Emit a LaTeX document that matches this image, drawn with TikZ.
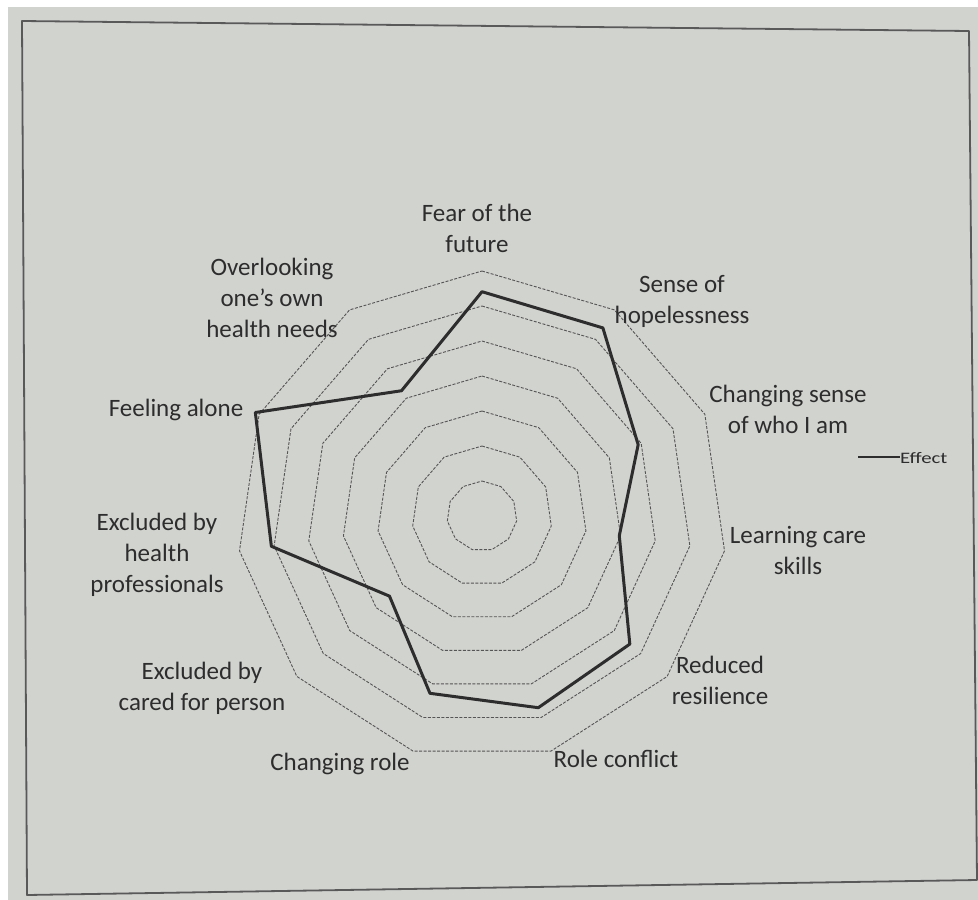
\documentclass[tikz,border=0pt]{standalone}
\usepackage{fontspec}
\setmainfont{Carlito}
\definecolor{paper}{RGB}{209,211,207}
\definecolor{ink}{RGB}{45,45,45}
\definecolor{gridc}{RGB}{85,85,85}
\begin{document}
\begin{tikzpicture}[x=1pt,y=-1pt,
  lab/.style={font=\fontsize{25}{31}\selectfont, text=ink, align=center, inner sep=0pt, anchor=base},
  ring/.style={draw=gridc, line width=0.9pt, dash pattern=on 3pt off 1.5pt, line join=round},
  series/.style={draw=ink, line width=3pt, line join=round},
  frame/.style={draw=black!65, line width=1.8pt, line join=round},
]
\useasboundingbox (0,0) rectangle (978,900);
\fill[white] (0,0) rectangle (978,900);
\fill[paper] (8,7) rectangle (978,900);
\draw[frame] (22,21) -- (969,31) -- (977,880) -- (27,895) -- cycle;

% grid rings (11-gon)
\foreach \k in {1,...,7} {
  \draw[ring] ({482+35*\k*cos(90)},{516-35*\k*sin(90)})
    \foreach \i in {1,...,10} { -- ({482+35*\k*cos(90-\i*360/11)},{516-35*\k*sin(90-\i*360/11)}) } -- cycle;
}

% data points
\foreach \r [count=\i from 0] in {224.3,223.6,171.7,138.7,195.6,199.8,184.8,122.4,212.8,249.2,148.9} {
  \coordinate (p\i) at ({482+\r*cos(90-\i*360/11)},{516-\r*sin(90-\i*360/11)});
}
\draw[series] (p0) -- (p1) -- (p2) -- (p3) -- (p4) -- (p5) -- (p6) -- (p7) -- (p8) -- (p9) -- (p10) -- cycle;

% axis labels (base = baseline of the last line)
\node[lab] (fear) at (477,252) {Fear of the\\future};
\node[lab] (hope) at (682,323) {Sense of\\hopelessness};
\node[lab] (self) at (788,433) {Changing sense\\of who I am};
\node[lab] (skills) at (798,574) {Learning care\\skills};
\node[lab] (resil) at (720,704) {Reduced\\resilience};
\node[lab] (conflict) at (616,767) {Role conflict};
\node[lab] (role) at (340,770) {Changing role};
\node[lab] (cared) at (202,710) {Excluded by\\cared for person};
\node[lab] (health) at (157,592) {Excluded by\\health\\professionals};
\node[lab] (alone) at (176,416) {Feeling alone};
\node[lab] (overlook) at (272,337) {Overlooking\\one's own\\health needs};

% legend
\node[font=\fontsize{16}{18}\selectfont, text=ink, inner sep=0pt, anchor=west] (legtext) at (900,458) {\scalebox{1.3}[1]{Effect}};
\coordinate (legstart) at (858,457);
\draw[draw=ink, line width=2.5pt] (legstart) -- (legtext.west |- legstart);
\end{tikzpicture}
\end{document}
